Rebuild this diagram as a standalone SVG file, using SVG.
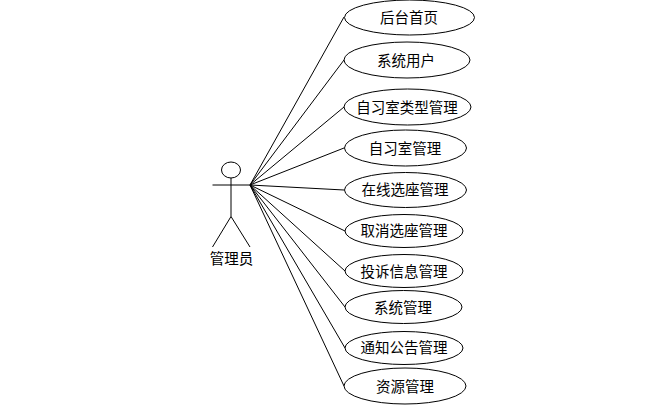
<svg xmlns="http://www.w3.org/2000/svg" width="667" height="408" viewBox="0 0 667 408">
<style>
.s{fill:none;stroke:#000;stroke-width:1}
.e{fill:#fff;stroke:#000;stroke-width:1}
text{font-family:"Noto Sans CJK SC","Noto Sans CJK JP",sans-serif;font-size:14.500px;fill:#000;text-anchor:middle;dominant-baseline:central}
</style>
<rect width="667" height="408" fill="#fff"/>
<g id="connectors" class="s">
<line x1="250" y1="185" x2="344" y2="17"/>
<line x1="250" y1="185" x2="344" y2="60"/>
<line x1="250" y1="185" x2="344" y2="107"/>
<line x1="250" y1="185" x2="344" y2="148"/>
<line x1="250" y1="185" x2="344" y2="190"/>
<line x1="250" y1="185" x2="345" y2="231"/>
<line x1="250" y1="185" x2="345" y2="271"/>
<line x1="250" y1="185" x2="345" y2="307"/>
<line x1="250" y1="185" x2="345" y2="348"/>
<line x1="250" y1="185" x2="344" y2="386"/>
</g>
<g id="actor">
<ellipse class="s" cx="231" cy="170" rx="9.500" ry="8"/>
<path class="s" d="M212.500 185H250M231 178V216.500L212.500 247M231 216.500L250 247"/>
<text x="231.500" y="257">管理员</text>
</g>
<g id="n1"><ellipse class="e" cx="409.500" cy="17.500" rx="65" ry="17.500"/><text x="409" y="16">后台首页</text></g>
<g id="n2"><ellipse class="e" cx="407" cy="60" rx="63" ry="18"/><text x="406" y="59">系统用户</text></g>
<g id="n3"><ellipse class="e" cx="407.500" cy="107" rx="63.500" ry="18"/><text x="407" y="106">自习室类型管理</text></g>
<g id="n4"><ellipse class="e" cx="405.500" cy="148" rx="61" ry="18"/><text x="405" y="147">自习室管理</text></g>
<g id="n5"><ellipse class="e" cx="405.500" cy="190" rx="61" ry="17.500"/><text x="405" y="188.500">在线选座管理</text></g>
<g id="n6"><ellipse class="e" cx="404" cy="231" rx="59" ry="16.500"/><text x="404" y="229.500">取消选座管理</text></g>
<g id="n7"><ellipse class="e" cx="404" cy="271" rx="59" ry="16.500"/><text x="404" y="270">投诉信息管理</text></g>
<g id="n8"><ellipse class="e" cx="403.500" cy="307" rx="58.500" ry="16.500"/><text x="403" y="306">系统管理</text></g>
<g id="n9"><ellipse class="e" cx="404" cy="348" rx="59" ry="16.500"/><text x="404" y="346.500">通知公告管理</text></g>
<g id="n10"><ellipse class="e" cx="405" cy="386" rx="61" ry="18"/><text x="405" y="385">资源管理</text></g>
</svg>
